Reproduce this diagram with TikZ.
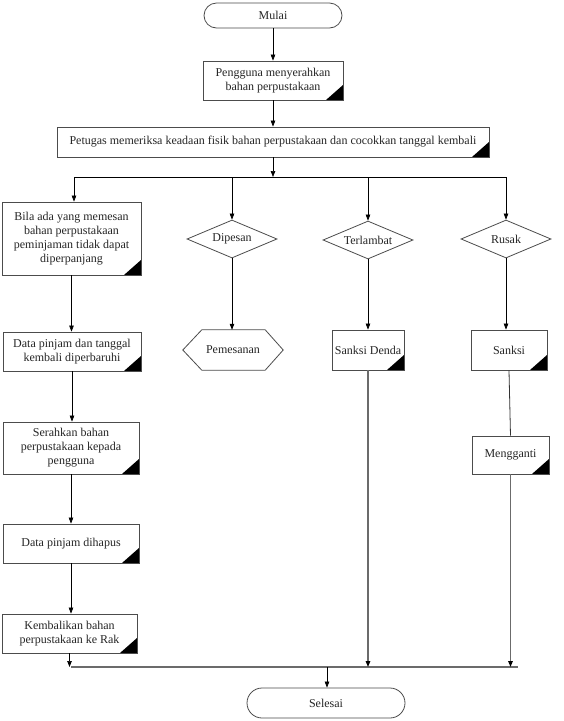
\documentclass[tikz,border=0pt]{standalone}
\usepackage{fontspec}
\setmainfont{Liberation Serif}
\usetikzlibrary{arrows.meta,shapes.geometric,shapes.misc}
\tikzset{
  txt/.style={font=\fontsize{12}{14}\selectfont, text=black!85, align=center, inner sep=1pt},
  proc/.style={txt, rectangle, draw=black!70, line width=0.8pt,
    path picture={\fill[black] (path picture bounding box.south east) -- ++(-17pt,0pt) -- ++(17pt,15pt) -- cycle;}},
  term/.style={txt, rounded rectangle, draw=black!70, line width=0.8pt},
  dec/.style={txt, diamond, draw=black!70, line width=0.8pt, aspect=2.37, inner sep=0pt, minimum width=90pt, minimum height=38pt},
  arr/.style={-{Triangle[length=6pt,width=4.5pt,color=black]}, line width=0.7pt},
  gline/.style={draw=black!58, line width=1.4pt},
}
\begin{document}
\begin{tikzpicture}[x=1pt,y=-1pt]
\useasboundingbox (0,0) rectangle (563,721);
\fill[white] (0,0) rectangle (563,721);

\node[term, minimum width=140pt, minimum height=25pt] (mulai) at (273,15.5) {Mulai};
\node[proc, minimum width=140pt, minimum height=39pt] (b1) at (273,80.5) {Pengguna menyerahkan\\bahan perpustakaan};
\node[proc, minimum width=432pt, minimum height=30pt] (b2) at (273,142) {Petugas memeriksa keadaan fisik bahan perpustakaan dan cocokkan tanggal kembali};
\node[proc, minimum width=139pt, minimum height=73pt] (b3) at (71.5,238.5) {Bila ada yang memesan\\bahan perpustakaan\\peminjaman tidak dapat\\diperpanjang};
\node[dec] (d1) at (232,239) {Dipesan};
\node[dec] (d2) at (368,240) {Terlambat};
\node[dec] (d3) at (506,239) {Rusak};
\node[proc, minimum width=138pt, minimum height=39pt] (b4) at (72,351.5) {Data pinjam dan tanggal\\kembali diperbaruhi};
\node[txt, minimum width=100pt, minimum height=40pt] (pem) at (233,350) {Pemesanan};
\draw[draw=black!70, line width=0.8pt] (pem.west) -- ([xshift=19pt]pem.north west) -- ([xshift=-18pt]pem.north east) -- (pem.east) -- ([xshift=-18pt]pem.south east) -- ([xshift=19pt]pem.south west) -- cycle;
\node[proc, minimum width=72pt, minimum height=40pt] (b5) at (368,350) {Sanksi Denda};
\node[proc, minimum width=76pt, minimum height=40pt] (b6) at (509,350) {Sanksi};
\node[proc, minimum width=77pt, minimum height=38pt] (b7) at (510.5,455) {Mengganti};
\node[proc, minimum width=136pt, minimum height=52pt] (b8) at (71,448) {Serahkan bahan\\perpustakaan kepada\\pengguna};
\node[proc, minimum width=136pt, minimum height=39pt] (b9) at (71,543.5) {Data pinjam dihapus};
\node[proc, minimum width=135pt, minimum height=39pt] (b10) at (69.5,633.5) {Kembalikan bahan\\perpustakaan ke Rak};
\node[term, minimum width=160pt, minimum height=30pt] (sel) at (326,703) {Selesai};

\coordinate (j0) at (273,177);
\coordinate (jl) at (74,177);
\coordinate (jr) at (506,177);
\coordinate (kl) at (71,667);
\coordinate (kr) at (518,667);
\coordinate (km) at (327,667);

\draw[arr] (mulai.south) -- (b1.north);
\draw[arr] (b1.south) -- (b2.north);
\draw[arr] (b2.south) -- (j0);
\draw[line width=0.7pt] (jl) -- (jr);
\draw[arr] (jl) -- (jl |- b3.north);
\draw[arr] (d1.north |- jl) -- (d1.north);
\draw[arr] (d2.north |- jl) -- (d2.north);
\draw[arr] (jr) -- (d3.north);
\draw[arr] (b3.south) -- (b3.south |- b4.north);
\draw[arr] (d1.south) -- (d1.south |- pem.north);
\draw[arr] (d2.south) -- (d2.south |- b5.north);
\draw[arr] (d3.south) -- (d3.south |- b6.north);
\draw[line width=0.8pt, draw=black!80] (b6.south) -- (b7.north);
\draw[arr] (b4.south) -- (b4.south |- b8.north);
\draw[arr] (b8.south) -- (b8.south |- b9.north);
\draw[arr] (b9.south) -- (b9.south |- b10.north);
\draw[arr] (b10.south) -- (b10.south |- kl);
\draw[gline] (kl) -- (kr);
\draw[gline, arr, line width=1.4pt] (b5.south) -- (b5.south |- kl);
\draw[gline, arr, line width=1.4pt] (b7.south) -- (b7.south |- kl);
\draw[arr] (km) -- (km |- sel.north);
\end{tikzpicture}
\end{document}
